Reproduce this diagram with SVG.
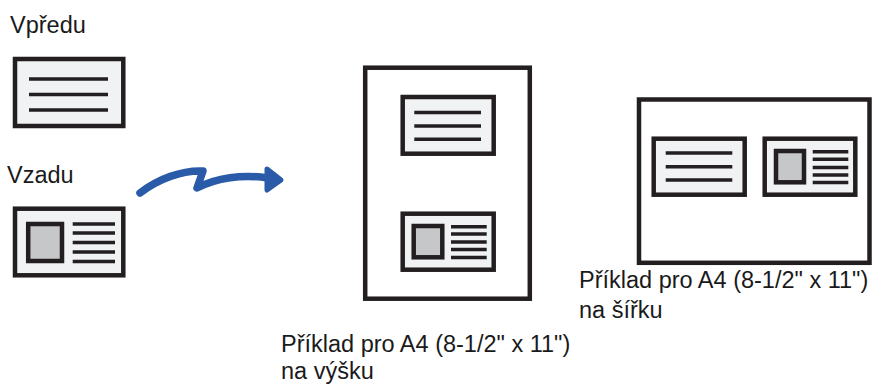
<svg xmlns="http://www.w3.org/2000/svg" width="877" height="385" viewBox="0 0 877 385">
<style>
.t{font-family:"Liberation Sans",Arial,sans-serif;font-size:23.5px;fill:#1a1a1a}
.card{fill:#f1f2f3;stroke:#231f20;stroke-width:4.5}
.page{fill:#ffffff;stroke:#231f20;stroke-width:4.5}
.photo{fill:#c6c7c9;stroke:#231f20;stroke-width:4.5}
.ln{stroke:#231f20;stroke-width:3.4;fill:none}
</style>
<rect width="877" height="385" fill="#ffffff"/>
<g id="front">
<text class="t" x="10" y="33">Vpředu</text>
<rect class="card" x="15" y="59" width="108.3" height="67"/>
<path class="ln" d="M29,79H108M29,94.5H108M29,110H108"/>
</g>
<g id="back">
<text class="t" x="7" y="183">Vzadu</text>
<rect class="card" x="15" y="208.7" width="108.3" height="66.6"/>
<rect class="photo" x="28.2" y="224" width="33.8" height="37"/>
<path class="ln" d="M72.7,224H115M72.7,233H115M72.7,242.5H115M72.7,252H115M72.7,261.5H115"/>
</g>
<g id="portrait">
<rect class="page" x="365.2" y="67.7" width="164.6" height="231"/>
<rect class="card" x="402.7" y="97" width="91" height="56.7"/>
<path class="ln" d="M414.3,112.5H481M414.3,126H481M414.3,139.3H481"/>
<rect class="card" x="402.7" y="213.7" width="91" height="56"/>
<rect class="photo" x="413.7" y="226" width="28.6" height="31.3"/>
<path class="ln" d="M451,226.7H486.7M451,234H486.7M451,242H486.7M451,249.5H486.7M451,257.5H486.7"/>
<text class="t" x="281" y="352">Příklad pro A4 (8-1/2" x 11")</text>
<text class="t" x="281" y="379">na výšku</text>
</g>
<g id="landscape">
<rect class="page" x="639" y="99.5" width="230.5" height="163.3"/>
<rect class="card" x="653.7" y="138.7" width="91" height="56"/>
<path class="ln" d="M665.7,153H732.3M665.7,166.7H732.3M665.7,180H732.3"/>
<rect class="card" x="764.7" y="138.7" width="90.6" height="56"/>
<rect class="photo" x="776" y="151" width="28" height="31.3"/>
<path class="ln" d="M812.7,151.7H848.3M812.7,159.3H848.3M812.7,167.5H848.3M812.7,175H848.3M812.7,182.5H848.3"/>
<text class="t" x="579" y="288">Příklad pro A4 (8-1/2" x 11")</text>
<text class="t" x="579" y="318">na šířku</text>
</g>
<g id="connectors">
<path d="M140,193 C158,179 182,170 203,171 L197,188 C216,178 242,174 268,178" fill="none" stroke="#2a5ba8" stroke-width="7.5" stroke-linecap="round" stroke-linejoin="round"/>
<polygon points="267,169 281,180 267,190" fill="#2a5ba8" stroke="#2a5ba8" stroke-width="5" stroke-linejoin="round"/>
</g>
</svg>
